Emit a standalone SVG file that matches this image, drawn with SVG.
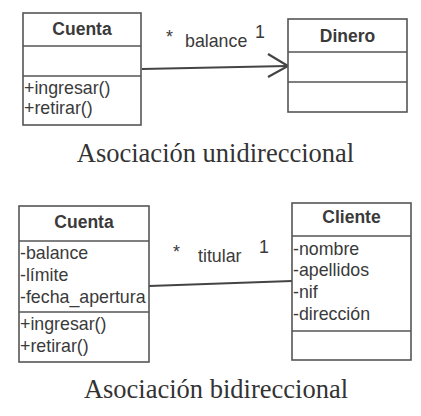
<svg xmlns="http://www.w3.org/2000/svg" width="421" height="416" viewBox="0 0 421 416">
<style>
.box{fill:#fff;stroke:#555;stroke-width:1.6}
.sep{stroke:#555;stroke-width:1.6}
.t{font-family:"Liberation Sans",Arial,sans-serif;font-size:17.8px;fill:#3a3a3a}
.h{font-family:"Liberation Sans",Arial,sans-serif;font-size:17.5px;font-weight:bold;fill:#3a3a3a;text-anchor:middle}
.cap{font-family:"Liberation Serif","Times New Roman",serif;font-size:26.5px;fill:#333;text-anchor:middle}
.conn{stroke:#444;stroke-width:2.2;fill:none}
</style>
<rect width="421" height="416" fill="#fff"/>
<g id="connectors">
<line class="conn" x1="142" y1="69" x2="287" y2="66"/>
<polyline class="conn" points="268,54 288,66 268,77"/>
<line class="conn" x1="149" y1="286" x2="292" y2="281"/>
<text class="t" x="166" y="43">*</text>
<text class="t" x="185" y="47">balance</text>
<text class="t" x="255" y="38">1</text>
<text class="t" x="173" y="258">*</text>
<text class="t" x="198" y="262">titular</text>
<text class="t" x="259" y="253">1</text>
</g>
<g id="cuenta1">
<rect class="box" x="23" y="13" width="118" height="112"/>
<line class="sep" x1="23" y1="46" x2="141" y2="46"/>
<line class="sep" x1="23" y1="76" x2="141" y2="76"/>
<text class="h" x="82" y="35">Cuenta</text>
<text class="t" x="24" y="94">+ingresar()</text>
<text class="t" x="24" y="114">+retirar()</text>
</g>
<g id="dinero">
<rect class="box" x="288" y="19" width="119" height="93"/>
<line class="sep" x1="288" y1="52" x2="407" y2="52"/>
<line class="sep" x1="288" y1="82" x2="407" y2="82"/>
<text class="h" x="347.5" y="42">Dinero</text>
</g>
<g id="cuenta2">
<rect class="box" x="19" y="206" width="130" height="156"/>
<line class="sep" x1="19" y1="241" x2="149" y2="241"/>
<line class="sep" x1="19" y1="312" x2="149" y2="312"/>
<text class="h" x="84" y="228">Cuenta</text>
<text class="t" x="20" y="259">-balance</text>
<text class="t" x="20" y="281">-límite</text>
<text class="t" x="20" y="303">-fecha_apertura</text>
<text class="t" x="20" y="330">+ingresar()</text>
<text class="t" x="20" y="352">+retirar()</text>
</g>
<g id="cliente">
<rect class="box" x="292" y="203" width="119" height="157"/>
<line class="sep" x1="292" y1="236" x2="411" y2="236"/>
<line class="sep" x1="292" y1="331" x2="411" y2="331"/>
<text class="h" x="351.5" y="223">Cliente</text>
<text class="t" x="293" y="255">-nombre</text>
<text class="t" x="293" y="276">-apellidos</text>
<text class="t" x="293" y="298">-nif</text>
<text class="t" x="293" y="320">-dirección</text>
</g>
<text class="cap" x="215.5" y="162">Asociación unidireccional</text>
<text class="cap" x="216" y="398">Asociación bidireccional</text>
</svg>
